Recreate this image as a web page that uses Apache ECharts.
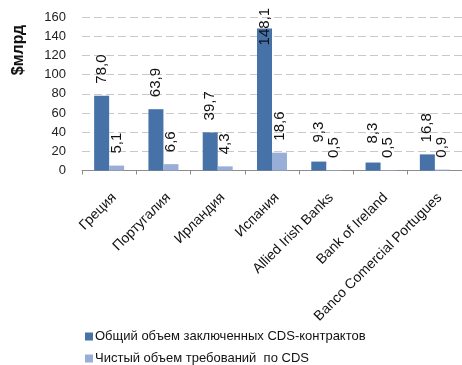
<!DOCTYPE html>
<html>
<head>
<meta charset="utf-8">
<script src="https://cdn.jsdelivr.net/npm/echarts@6/dist/echarts.min.js"></script>
<style>html,body{margin:0;padding:0;background:#fff}#c{width:462px;height:365px}</style>
</head>
<body>
<div id="c"></div>
<script>
var categories = ['Греция', 'Португалия', 'Ирландия', 'Испания', 'Allied Irish Banks', 'Bank of Ireland', 'Banco Comercial Portugues'];
var grossValues = [78.0, 63.9, 39.7, 148.1, 9.3, 8.3, 16.8];
var netValues = [5.1, 6.6, 4.3, 18.6, 0.5, 0.5, 0.9];
var seriesNames = ['Общий объем заключенных CDS-контрактов', 'Чистый объем требований  по CDS'];
var yTicks = [0, 20, 40, 60, 80, 100, 120, 140, 160];
var yTitle = '$млрд';

function fmt(v) { return v.toFixed(1).replace('.', ','); }

var labelBase = {
  show: true, position: 'top', rotate: 90, align: 'left', verticalAlign: 'middle',
  distance: 12, fontFamily: 'Arial, Liberation Sans', fontSize: 15, color: '#111',
  formatter: function (p) { return fmt(p.value); }
};

var grossData = grossValues.map(function (v, i) {
  var d = { value: v };
  if (i === 3) d.label = { distance: -17 };
  if (i === 4 || i === 5) d.label = { distance: 19 };
  return d;
});

var legendCommon = {
  orient: 'horizontal', left: 80, itemWidth: 8, itemHeight: 8, icon: 'rect',
  textStyle: { fontSize: 13, color: '#111', padding: [0, 0, 0, -3] }
};

var chart = echarts.init(document.getElementById('c'), null, { renderer: 'canvas' });
chart.setOption({
  animation: false,
  textStyle: { fontFamily: 'Arial, Liberation Sans' },
  grid: { left: 82, top: 17, width: 381, bottom: 194.5, containLabel: false },
  legend: [
    Object.assign({}, legendCommon, { top: 325, data: [seriesNames[0]] }),
    Object.assign({}, legendCommon, { top: 347, data: [seriesNames[1]] })
  ],
  graphic: [{
    type: 'text', x: 19, y: 50, rotation: Math.PI / 2,
    style: { text: yTitle, font: 'bold 16px Arial, Liberation Sans', fill: '#111', align: 'center', verticalAlign: 'middle' }
  }],
  xAxis: {
    type: 'category', data: categories,
    axisLine: { lineStyle: { color: '#8c8c8c' } },
    axisTick: { show: true, length: 4, lineStyle: { color: '#8c8c8c' } },
    axisLabel: { rotate: 45, fontSize: 14, color: '#111', margin: 20, interval: 0, verticalAlign: 'top' }
  },
  yAxis: {
    type: 'value', min: 0, max: 160, interval: 20,
    axisLine: { show: false }, axisTick: { show: false },
    axisLabel: { fontSize: 13, color: '#222', margin: 16, formatter: function (v) { return yTicks.indexOf(v) >= 0 ? String(v) : ''; } },
    splitLine: { lineStyle: { color: '#c8c8c8', type: [8, 4], width: 1 } }
  },
  series: [
    { name: seriesNames[0], type: 'bar', data: grossData, barWidth: 15, barGap: '0%',
      itemStyle: { color: '#4672A8' }, label: labelBase },
    { name: seriesNames[1], type: 'bar', data: netValues, barWidth: 15, barGap: '0%',
      itemStyle: { color: '#98AED7' }, label: labelBase }
  ]
});
</script>
</body>
</html>
